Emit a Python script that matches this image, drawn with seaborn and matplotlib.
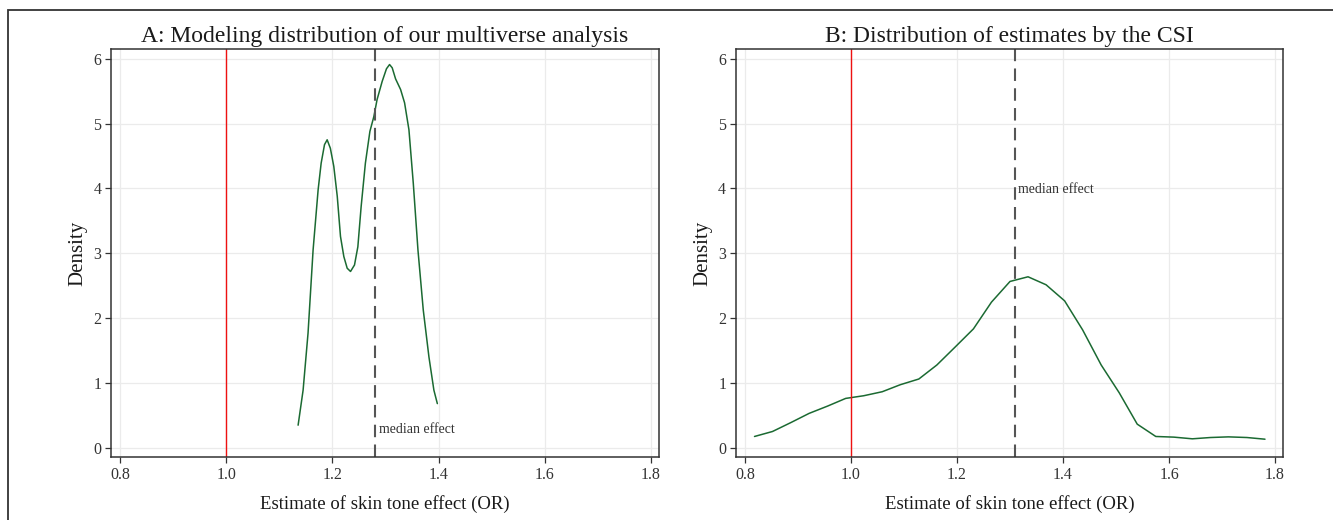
import numpy as np
import pandas as pd
import matplotlib.pyplot as plt
import seaborn as sns
from matplotlib.patches import Rectangle

# panel A: smoothed density of the multiverse estimates
multi_x = [1.1353, 1.1447, 1.154, 1.1635, 1.173, 1.1787, 1.185, 1.19, 1.196, 1.2025,
           1.209, 1.2151, 1.2214, 1.2277, 1.234, 1.2415, 1.2478, 1.254, 1.262, 1.2705,
           1.278, 1.284, 1.2936, 1.3017, 1.3075, 1.3125, 1.3188, 1.3283, 1.3358, 1.344,
           1.3522, 1.361, 1.371, 1.3817, 1.391, 1.3975]
multi_y = [0.35, 0.89, 1.77, 3.05, 3.98, 4.39, 4.675, 4.75, 4.62, 4.34,
           3.88, 3.26, 2.95, 2.77, 2.72, 2.82, 3.10, 3.72, 4.39, 4.88,
           5.11, 5.37, 5.65, 5.845, 5.91, 5.86, 5.69, 5.525, 5.32, 4.905,
           4.08, 3.05, 2.125, 1.40, 0.89, 0.683]
multi_median = 1.281

# panel B: density of the crowdsourced (CSI) estimates
csi_x = [0.818, 0.852, 0.887, 0.921, 0.956, 0.990, 1.024, 1.059, 1.093, 1.128,
         1.162, 1.196, 1.231, 1.265, 1.300, 1.334, 1.368, 1.403, 1.437, 1.472,
         1.506, 1.540, 1.575, 1.609, 1.644, 1.678, 1.712, 1.747, 1.781]
csi_y = [0.176, 0.253, 0.392, 0.532, 0.645, 0.763, 0.804, 0.866, 0.974, 1.062,
         1.278, 1.551, 1.835, 2.247, 2.566, 2.638, 2.515, 2.267, 1.819, 1.278,
         0.85, 0.366, 0.176, 0.166, 0.14, 0.16, 0.17, 0.16, 0.134]
csi_median = 1.31

x_ticks = [0.8, 1.0, 1.2, 1.4, 1.6, 1.8]
y_ticks = [0, 1, 2, 3, 4, 5, 6]

sns.set_theme(style="whitegrid")
plt.rcParams['font.family'] = ['Liberation Serif', 'DejaVu Serif']
plt.rcParams['axes.edgecolor'] = '#333333'
plt.rcParams['grid.color'] = '#ebebeb'

fig = plt.figure(figsize=(13.33, 5.2), dpi=100)
ax_a = fig.add_axes([0.0833, 0.1212, 0.4111, 0.7846])
ax_b = fig.add_axes([0.5521, 0.1212, 0.4104, 0.7846])

# outer frame, cut off at right and bottom like the original
fig.patches.append(Rectangle((8 / 1333, -0.1), 1.1, (510 / 520) + 0.1, transform=fig.transFigure,
                             fill=False, edgecolor='#333333', linewidth=1.3))

panels = [
    (ax_a, multi_x, multi_y, multi_median, 0.28, "A: Modeling distribution of our multiverse analysis"),
    (ax_b, csi_x, csi_y, csi_median, 3.98, "B: Distribution of estimates by the CSI"),
]

for ax, xs, ys, med, label_y, title in panels:
    df = pd.DataFrame({"x": xs, "y": ys})
    sns.lineplot(data=df, x="x", y="y", ax=ax, color="#1b6a32", linewidth=1.1, sort=False)
    ax.axvline(1.0, color="#ee1111", linewidth=1.0)
    ax.axvline(med, color="#555555", linewidth=1.5, linestyle=(0, (6, 3.5)))
    ax.text(med + 0.006, label_y, "median effect", fontsize=10, color="#333333", va="center", ha="left")

    ax.set_xlim(0.783, 1.815)
    ax.set_ylim(-0.14, 6.15)
    ax.set_xticks(x_ticks)
    ax.set_xticklabels(["{:.1f}".format(t) for t in x_ticks])
    ax.set_yticks(y_ticks)
    ax.grid(True, linewidth=0.9)
    ax.tick_params(axis='both', which='major', direction='out', length=4, width=0.9,
                   color='#333333', labelcolor='#333333', labelsize=11.5, pad=3,
                   bottom=True, left=True)
    for s in ax.spines.values():
        s.set_color('#333333')
        s.set_linewidth(1.1)
    ax.set_title(title, fontsize=17, color='#1a1a1a', pad=5)
    ax.set_xlabel("Estimate of skin tone effect (OR)", fontsize=13.5, color='#1a1a1a', labelpad=9)
    ax.set_ylabel("Density", fontsize=15, color='#1a1a1a', labelpad=4)

fig.savefig("out.png", dpi=100)
